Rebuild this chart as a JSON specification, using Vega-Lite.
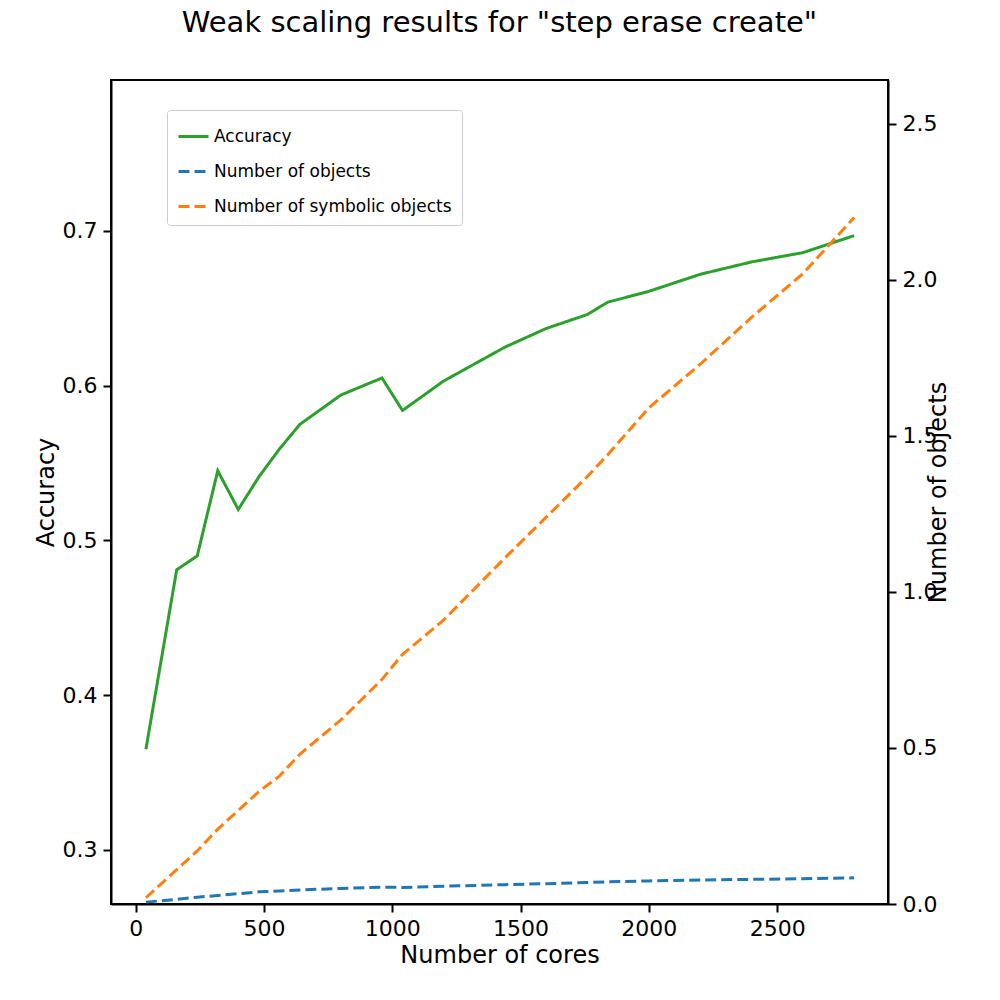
{
  "$schema": "https://vega.github.io/schema/vega-lite/v6.json",
  "autosize": "none",
  "width": 777,
  "height": 824,
  "padding": {"left": 111, "top": 80, "right": 112, "bottom": 96},
  "title": {"text": "Weak scaling results for \"step erase create\"", "fontSize": 29, "fontWeight": "normal", "font": "DejaVu Sans", "offset": 42},
  "datasets": {
    "acc": [
      {"cores": 40, "value": 0.365}, {"cores": 160, "value": 0.481}, {"cores": 240, "value": 0.490},
      {"cores": 320, "value": 0.545}, {"cores": 400, "value": 0.520}, {"cores": 480, "value": 0.541},
      {"cores": 560, "value": 0.559}, {"cores": 640, "value": 0.575}, {"cores": 800, "value": 0.594},
      {"cores": 960, "value": 0.605}, {"cores": 1040, "value": 0.584}, {"cores": 1200, "value": 0.603},
      {"cores": 1440, "value": 0.625}, {"cores": 1600, "value": 0.637}, {"cores": 1760, "value": 0.646},
      {"cores": 1840, "value": 0.654}, {"cores": 2000, "value": 0.661}, {"cores": 2200, "value": 0.672},
      {"cores": 2400, "value": 0.680}, {"cores": 2600, "value": 0.686}, {"cores": 2800, "value": 0.697}
    ],
    "objs": [
      {"cores": 40, "objects": 6e8, "symbolic": 2e9},
      {"cores": 160, "objects": 1.5e9, "symbolic": 1.1e10},
      {"cores": 240, "objects": 2.2e9, "symbolic": 1.7e10},
      {"cores": 320, "objects": 2.7e9, "symbolic": 2.4e10},
      {"cores": 400, "objects": 3.3e9, "symbolic": 3.0e10},
      {"cores": 480, "objects": 3.9e9, "symbolic": 3.6e10},
      {"cores": 560, "objects": 4.2e9, "symbolic": 4.1e10},
      {"cores": 640, "objects": 4.5e9, "symbolic": 4.8e10},
      {"cores": 800, "objects": 5.0e9, "symbolic": 5.9e10},
      {"cores": 960, "objects": 5.4e9, "symbolic": 7.2e10},
      {"cores": 1040, "objects": 5.3e9, "symbolic": 8.0e10},
      {"cores": 1200, "objects": 5.7e9, "symbolic": 9.1e10},
      {"cores": 1440, "objects": 6.2e9, "symbolic": 1.11e11},
      {"cores": 1600, "objects": 6.5e9, "symbolic": 1.24e11},
      {"cores": 1760, "objects": 6.9e9, "symbolic": 1.37e11},
      {"cores": 1840, "objects": 7.1e9, "symbolic": 1.44e11},
      {"cores": 2000, "objects": 7.4e9, "symbolic": 1.59e11},
      {"cores": 2200, "objects": 7.7e9, "symbolic": 1.73e11},
      {"cores": 2400, "objects": 7.9e9, "symbolic": 1.88e11},
      {"cores": 2600, "objects": 8.1e9, "symbolic": 2.02e11},
      {"cores": 2800, "objects": 8.4e9, "symbolic": 2.20e11}
    ],
    "exp": [{"label": "1e11"}]
  },
  "encoding": {
    "x": {"field": "cores", "type": "quantitative", "title": "Number of cores",
      "scale": {"domain": [-96, 2932], "nice": false, "zero": false},
      "axis": {"values": [0, 500, 1000, 1500, 2000, 2500], "format": "d"}}
  },
  "layer": [
    {
      "data": {"name": "acc"},
      "transform": [{"calculate": "'Accuracy'", "as": "series"}],
      "mark": {"type": "line", "strokeWidth": 3},
      "encoding": {
        "y": {"field": "value", "type": "quantitative", "title": "Accuracy",
          "scale": {"domain": [0.265, 0.7976], "nice": false, "zero": false},
          "axis": {"values": [0.3, 0.4, 0.5, 0.6, 0.7], "format": ".1f"}},
        "color": {"field": "series", "type": "nominal", "title": null,
          "scale": {"domain": ["Accuracy", "Number of objects", "Number of symbolic objects"], "range": ["#2ca02c", "#1f77b4", "#ff7f0e"]},
          "legend": {"orient": "none", "legendX": 56, "legendY": 30}},
        "strokeDash": {"field": "series", "type": "nominal", "title": null,
          "scale": {"domain": ["Accuracy", "Number of objects", "Number of symbolic objects"], "range": [[1, 0], [11, 5], [11, 5]]},
          "legend": {"orient": "none", "legendX": 56, "legendY": 30}}
      }
    },
    {
      "layer": [
        {
          "data": {"name": "objs"},
          "transform": [{"fold": ["objects", "symbolic"], "as": ["key", "value"]},
            {"calculate": "datum.key == 'objects' ? 'Number of objects' : 'Number of symbolic objects'", "as": "series"}],
          "mark": {"type": "line", "strokeWidth": 3},
          "encoding": {
            "y": {"field": "value", "type": "quantitative", "title": "Number of objects",
              "scale": {"domain": [0, 2.641e11], "nice": false},
              "axis": {"orient": "right", "titleAngle": 270, "titlePadding": 14, "values": [0, 5e10, 1e11, 1.5e11, 2e11, 2.5e11], "labelExpr": "format(datum.value / 1e11, '.1f')"}},
            "color": {"field": "series", "type": "nominal"},
            "strokeDash": {"field": "series", "type": "nominal"}
          }
        },
        {
          "data": {"name": "exp"},
          "mark": {"type": "text", "fontSize": 24, "font": "DejaVu Sans", "align": "right", "baseline": "bottom", "dy": -6, "color": "black", "clip": false},
          "encoding": {
            "x": {"datum": 2932, "type": "quantitative"},
            "y": {"datum": 2.641e11, "type": "quantitative"},
            "text": {"field": "label", "type": "nominal"}
          }
        }
      ]
    }
  ],
  "resolve": {"scale": {"y": "independent"}},
  "config": {
    "font": "DejaVu Sans",
    "view": {"stroke": "black", "strokeWidth": 2},
    "axis": {"grid": false, "domainColor": "black", "domainWidth": 2, "tickColor": "black", "tickWidth": 2, "tickSize": 8,
      "labelFontSize": 22, "labelColor": "black", "titleFontSize": 24, "titleFontWeight": "normal", "titleColor": "black", "labelPadding": 6},
    "legend": {"labelFontSize": 17, "labelLimit": 0, "symbolType": "stroke", "symbolSize": 900, "symbolStrokeWidth": 3,
      "strokeColor": "#cccccc", "fillColor": "white", "padding": 10, "cornerRadius": 3, "labelColor": "black", "rowPadding": 10}
  }
}
